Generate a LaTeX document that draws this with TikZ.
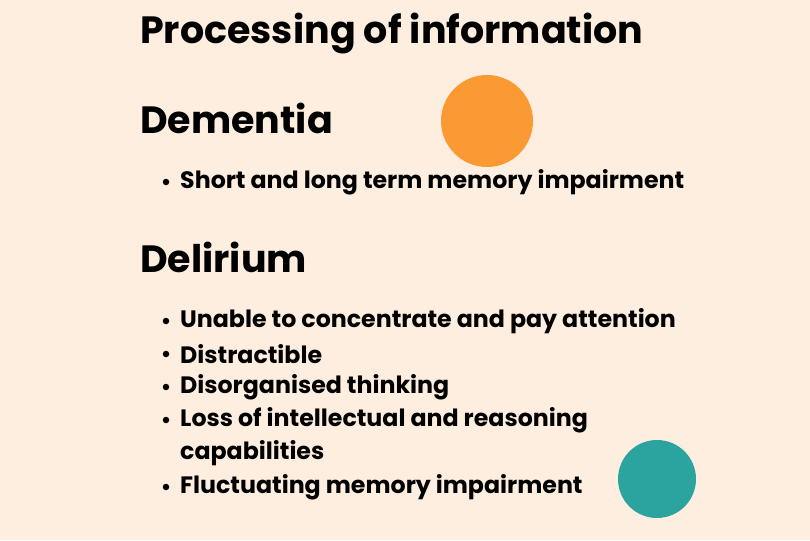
\documentclass[tikz,border=0pt]{standalone}
\usepackage{fontspec}
\setmainfont{Poppins}[BoldFont=* Bold]
\definecolor{bg}{HTML}{FDEEE0}
\definecolor{orng}{HTML}{FB9A33}
\definecolor{teal2}{HTML}{2BA39F}
\begin{document}
\begin{tikzpicture}[x=1pt,y=-1pt,
  head/.style={anchor=west,inner sep=0pt,font=\bfseries\fontsize{38}{42}\selectfont},
  item/.style={anchor=west,inner sep=0pt,font=\bfseries\fontsize{23.7}{33}\selectfont,align=left},
  dot/.style={circle,fill=black,inner sep=0pt,minimum size=6.5pt}]
\fill[bg] (0,0) rectangle (810,540);
\useasboundingbox (0,0) rectangle (810,540);
\fill[orng] (487,121) circle (46);
\fill[teal2] (657,479) circle (39);
\node[head] (t) at (140,34) {Processing of information};
\node[head] (h1) at (140,118) {Dementia};
\node[head] (h2) at (140,257) {Delirium};
\foreach \y/\txt/\n in {182/Short and long term memory impairment/a,321/Unable to concentrate and pay attention/b,354/Distractible/c,387/Disorganised thinking/d,420/Loss of intellectual and reasoning/e,487/Fluctuating memory impairment/f}{
  \node[dot] (d\n) at (166,\y) {};
  \node[item] (i\n) at (180,\y) {\txt};
}
\node[item] (ig) at (180,453) {capabilities};
\end{tikzpicture}
\end{document}
